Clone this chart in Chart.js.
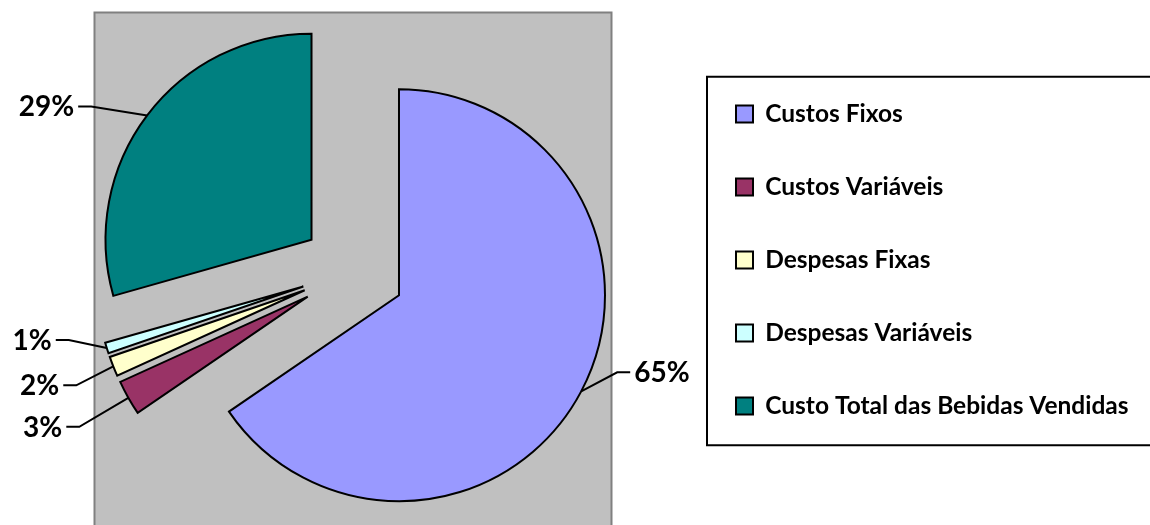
<!DOCTYPE html>
<html>
<head>
<meta charset="utf-8">
<script src="https://cdn.jsdelivr.net/npm/chart.js@4.4.1/dist/chart.umd.min.js"></script>
<style>
  html, body { margin: 0; padding: 0; background: #fff; overflow: hidden; }
  #wrap { width: 1150px; height: 525px; overflow: hidden; }
</style>
</head>
<body>
<div id="wrap"><canvas id="myChart" width="1300" height="560"></canvas></div>
<script>
const categories = ['Custos Fixos', 'Custos Variáveis', 'Despesas Fixas', 'Despesas Variáveis', 'Custo Total das Bebidas Vendidas'];
const shares = [65.45, 2.75, 1.55, 0.85, 29.4];
const sliceColors = ['#9999FF', '#993366', '#FFFFCC', '#CCFFFF', '#008080'];

// where each leader line bends, relative to the point on the slice edge
const labelElbows = [[36, -19], [-49, 29], [-37, 19], [-38, -8], [-56, -9]];

const EXPLODE = 52;
const RADIUS = 206;
const PLOT_SIDE = 517;
const CENTER_X = 353;
const LEGEND_SIZE = 24.5;
const LEGEND_GAP = 48.5;
const LEGEND_LEFT = 687.5;
const LEGEND_BOX = 17;
const CANVAS_W = 1300;

// legend width is measured so the pie centre lands where it should
const measure = document.createElement('canvas').getContext('2d');
measure.font = `bold ${LEGEND_SIZE}px Lato`;
const longest = Math.max(...categories.map(c => measure.measureText(c).width));
const legendWidth = LEGEND_GAP + LEGEND_BOX + LEGEND_SIZE / 2 + longest + 10;

const explodedPie = {
    id: 'explodedPie',
    beforeDatasetsDraw(chart) {
        const arc = chart.getDatasetMeta(0).data[0];
        const ctx = chart.ctx;
        const half = PLOT_SIDE / 2;
        ctx.save();
        ctx.fillStyle = '#C0C0C0';
        ctx.fillRect(arc.x - half, arc.y - half, PLOT_SIDE, PLOT_SIDE);
        ctx.strokeStyle = '#808080';
        ctx.lineWidth = 2;
        ctx.strokeRect(arc.x - half, arc.y - half, PLOT_SIDE, PLOT_SIDE);
        ctx.restore();
    },
    beforeDatasetDraw(chart, args) {
        const ctx = chart.ctx;
        args.meta.data.forEach(arc => {
            const mid = (arc.startAngle + arc.endAngle) / 2;
            ctx.save();
            ctx.translate(Math.cos(mid) * EXPLODE, Math.sin(mid) * EXPLODE);
            arc.draw(ctx);
            ctx.restore();
        });
        return false;
    },
    afterDatasetsDraw(chart) {
        const ctx = chart.ctx;
        const values = chart.data.datasets[0].data;
        const total = values.reduce((a, b) => a + b, 0);
        chart.getDatasetMeta(0).data.forEach((arc, i) => {
            const mid = (arc.startAngle + arc.endAngle) / 2;
            const cx = arc.x + Math.cos(mid) * EXPLODE;
            const cy = arc.y + Math.sin(mid) * EXPLODE;
            const ax = cx + Math.cos(mid) * arc.outerRadius;
            const ay = cy + Math.sin(mid) * arc.outerRadius;
            const [dx, dy] = labelElbows[i];
            const ex = ax + dx;
            const ey = ay + dy;
            const side = dx > 0 ? 1 : -1;
            const tx = ex + side * 13;
            ctx.save();
            ctx.strokeStyle = '#000';
            ctx.lineWidth = 2;
            ctx.beginPath();
            ctx.moveTo(ax, ay);
            ctx.lineTo(ex, ey);
            ctx.lineTo(tx, ey);
            ctx.stroke();
            ctx.fillStyle = '#000';
            ctx.font = 'bold 28px Lato';
            ctx.textBaseline = 'middle';
            ctx.textAlign = side > 0 ? 'left' : 'right';
            ctx.fillText(Math.round(values[i] / total * 100) + '%', tx + side * 4, ey + 1);
            ctx.restore();
        });
    },
    afterDraw(chart) {
        const legend = chart.legend;
        const ctx = chart.ctx;
        const firstTop = legend.top + legend._computeTitleHeight() + LEGEND_GAP;
        const n = categories.length;
        const top = firstTop - 25;
        const bottom = firstTop + (n - 1) * (LEGEND_SIZE + LEGEND_GAP) + LEGEND_SIZE + 27;
        ctx.save();
        ctx.strokeStyle = '#000';
        ctx.lineWidth = 2;
        ctx.strokeRect(legend.left + 19.5, top, 1000, bottom - top);
        ctx.restore();
    }
};

new Chart(document.getElementById('myChart'), {
    type: 'pie',
    data: {
        labels: categories,
        datasets: [{
            data: shares,
            backgroundColor: sliceColors,
            borderColor: '#000',
            borderWidth: 2,
            borderJoinStyle: 'miter',
        }],
    },
    options: {
        responsive: false,
        animation: false,
        events: [],
        radius: RADIUS,
        layout: {
            padding: {
                top: 13,
                bottom: 31,
                left: 2 * CENTER_X - LEGEND_LEFT,
                right: CANVAS_W - LEGEND_LEFT - legendWidth,
            },
        },
        plugins: {
            tooltip: { enabled: false },
            legend: {
                position: 'right',
                align: 'start',
                title: { display: true, text: '', font: { size: 10 }, padding: { top: 28.25, bottom: 0 } },
                labels: {
                    boxWidth: LEGEND_BOX,
                    boxHeight: LEGEND_BOX,
                    padding: LEGEND_GAP,
                    color: '#000',
                    font: { family: 'Lato', size: LEGEND_SIZE, weight: 'bold' },
                },
            },
        },
    },
    plugins: [explodedPie],
});
</script>
</body>
</html>
